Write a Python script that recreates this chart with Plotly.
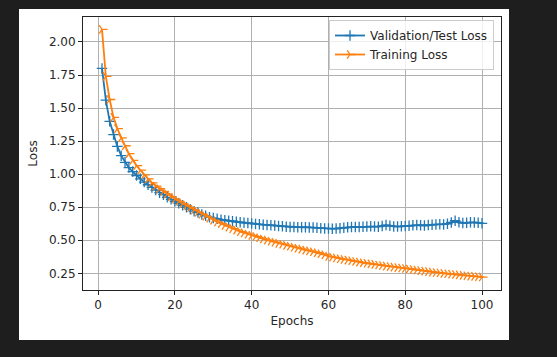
import plotly.graph_objects as go

epochs = list(range(1, 101))

val_loss = [
    1.80, 1.56, 1.40, 1.30, 1.21, 1.14, 1.09, 1.05, 1.02, 0.99,
    0.965, 0.94, 0.92, 0.90, 0.88, 0.86, 0.845, 0.825, 0.81, 0.795,
    0.78, 0.765, 0.75, 0.735, 0.72, 0.71, 0.695, 0.685, 0.675, 0.668,
    0.662, 0.656, 0.652, 0.648, 0.644, 0.64, 0.636, 0.632, 0.63, 0.627,
    0.624, 0.621, 0.618, 0.616, 0.614, 0.611, 0.609, 0.606, 0.603, 0.601,
    0.600, 0.599, 0.598, 0.599, 0.597, 0.596, 0.594, 0.592, 0.59, 0.589,
    0.588, 0.589, 0.592, 0.595, 0.598, 0.60, 0.601, 0.60, 0.602, 0.604,
    0.606, 0.604, 0.603, 0.608, 0.615, 0.61, 0.605, 0.604, 0.606, 0.608,
    0.61, 0.613, 0.615, 0.614, 0.612, 0.615, 0.618, 0.62, 0.621, 0.62,
    0.625, 0.635, 0.648, 0.636, 0.63, 0.632, 0.636, 0.635, 0.632, 0.628,
]

train_loss = [
    2.095, 1.74, 1.565, 1.43, 1.345, 1.275, 1.215, 1.155, 1.105, 1.065,
    1.03, 0.995, 0.965, 0.935, 0.91, 0.89, 0.87, 0.85, 0.83, 0.812,
    0.795, 0.778, 0.762, 0.746, 0.73, 0.713, 0.697, 0.682, 0.667, 0.652,
    0.638, 0.625, 0.612, 0.60, 0.588, 0.577, 0.566, 0.556, 0.546, 0.537,
    0.528, 0.519, 0.51, 0.501, 0.493, 0.485, 0.477, 0.47, 0.462, 0.455,
    0.447, 0.44, 0.433, 0.426, 0.42, 0.413, 0.406, 0.398, 0.39, 0.378,
    0.372, 0.366, 0.36, 0.355, 0.35, 0.345, 0.34, 0.335, 0.33, 0.326,
    0.322, 0.318, 0.313, 0.309, 0.305, 0.301, 0.297, 0.293, 0.29, 0.287,
    0.283, 0.279, 0.275, 0.271, 0.267, 0.263, 0.259, 0.256, 0.253, 0.25,
    0.247, 0.244, 0.241, 0.238, 0.235, 0.232, 0.229, 0.227, 0.224, 0.222,
]

x_ticks = [0, 20, 40, 60, 80, 100]
y_ticks = [0.25, 0.50, 0.75, 1.00, 1.25, 1.50, 1.75, 2.00]

BLUE = "#1f77b4"
ORANGE = "#ff7f0e"
FONT = "DejaVu Sans"
TXT = "#262626"
FS = 12

fig = go.Figure()
fig.add_trace(go.Scatter(
    x=epochs, y=val_loss, mode="lines+markers", name="Validation/Test Loss",
    line=dict(color=BLUE, width=1.8),
    marker=dict(symbol="cross-thin", size=7.5, color=BLUE,
                line=dict(color=BLUE, width=1.3)),
))
fig.add_trace(go.Scatter(
    x=epochs, y=train_loss, mode="lines+markers", name="Training Loss",
    line=dict(color=ORANGE, width=1.8),
    marker=dict(symbol="y-right", size=7, color=ORANGE,
                line=dict(color=ORANGE, width=1.3)),
))

# plot area in pixels: x 83..501, y 17..290
L, R, T, B = 83, 56, 17, 67
W, H = 557, 357
pw, ph = W - L - R, H - T - B

def px_x(p):
    return (p - L) / pw

def px_y(p):
    return (H - B - p) / ph

fig.add_shape(type="rect", xref="paper", yref="paper",
              x0=px_x(19), x1=px_x(509), y0=px_y(340), y1=px_y(9),
              fillcolor="white", line=dict(width=0), layer="below")

axis_common = dict(
    showgrid=True, gridcolor="#b0b0b0", gridwidth=0.8,
    showline=True, linecolor="#222", linewidth=1, mirror=True,
    ticks="outside", ticklen=4, tickcolor="#222", tickwidth=1,
    zeroline=False,
    tickfont=dict(family=FONT, size=FS, color=TXT),
)

fig.update_layout(
    width=W, height=H,
    margin=dict(l=L, r=R, t=T, b=B, pad=0),
    paper_bgcolor="#1e1e1e",
    plot_bgcolor="white",
    font=dict(family=FONT, size=FS, color=TXT),
    xaxis=dict(range=[-3.95, 104.95], tickvals=x_ticks,
               ticktext=[str(v) for v in x_ticks],
               title=dict(text="Epochs", font=dict(family=FONT, size=FS, color=TXT), standoff=5),
               **axis_common),
    yaxis=dict(range=[0.124, 2.189], tickvals=y_ticks,
               ticktext=[f"{v:.2f}" for v in y_ticks],
               title=dict(text="Loss", font=dict(family=FONT, size=FS, color=TXT), standoff=8),
               **axis_common),
    legend=dict(x=px_x(494), y=px_y(20), xanchor="right", yanchor="top",
                bgcolor="rgba(255,255,255,0.8)", bordercolor="#cccccc", borderwidth=1,
                font=dict(family=FONT, size=FS, color=TXT),
                itemwidth=30, tracegroupgap=0),
    showlegend=True,
)

fig.write_html(
    "out.html",
    config={"displayModeBar": False},
    post_script="document.body.style.margin='0';document.body.style.background='#1e1e1e';document.body.style.overflow='hidden';",
)
